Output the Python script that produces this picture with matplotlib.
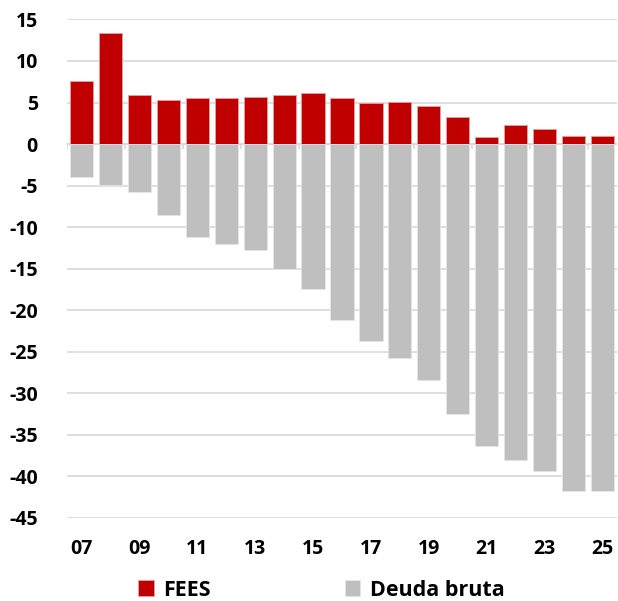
import numpy as np
import matplotlib.pyplot as plt

years = ['07', '08', '09', '10', '11', '12', '13', '14', '15', '16',
         '17', '18', '19', '20', '21', '22', '23', '24', '25']
fees = [7.6, 13.4, 5.9, 5.3, 5.6, 5.5, 5.7, 5.9, 6.1, 5.5,
        4.9, 5.1, 4.6, 3.2, 0.9, 2.3, 1.8, 1.0, 1.0]
deuda = [-4.0, -4.9, -5.8, -8.6, -11.2, -12.0, -12.8, -15.1, -17.4, -21.2,
         -23.7, -25.8, -28.4, -32.5, -36.4, -38.0, -39.4, -41.8, -41.8]

plt.rcParams['font.family'] = ['Open Sans', 'DejaVu Sans']
plt.rcParams['font.weight'] = 'bold'
plt.rcParams['axes.unicode_minus'] = False

fig = plt.figure(figsize=(6.18, 6.01), dpi=100)
ax = fig.add_axes([0.1084, 0.1386, 0.8900, 0.8290])

x = np.arange(len(years))
ax.bar(x, fees, width=0.8, color='#c00000', edgecolor='#e8a0a0', linewidth=0.6,
       label='FEES', zorder=3)
ax.bar(x, deuda, width=0.8, color='#bfbfbf', edgecolor='#e6e6e6', linewidth=0.6,
       label='Deuda bruta', zorder=3)

ax.set_ylim(-45, 15)
ax.set_xlim(-0.5, len(years) - 0.5)
ax.set_yticks(range(-45, 16, 5))
ax.grid(axis='y', color='#d9d9d9', linewidth=1.2, zorder=0)
ax.axhline(0, color='#d9d9d9', linewidth=1.5, zorder=2)
# small tick marks on the zero line, every two categories
ax.vlines(np.arange(-0.5, len(years), 2), 0, -0.55, color='#d9d9d9',
          linewidth=1.2, zorder=2)

ax.set_xticks(x[::2])
ax.set_xticklabels(years[::2])
ax.tick_params(axis='both', length=0, labelsize=14)
ax.tick_params(axis='x', pad=15)
ax.tick_params(axis='y', pad=21)
for s in ax.spines.values():
    s.set_visible(False)

fig.legend(loc='center', bbox_to_anchor=(0.52, 0.018), ncol=2, frameon=False,
           fontsize=15.5, handlelength=0.72, handleheight=0.72, handletextpad=0.45,
           columnspacing=6.2)

fig.savefig('out.png', dpi=100)
